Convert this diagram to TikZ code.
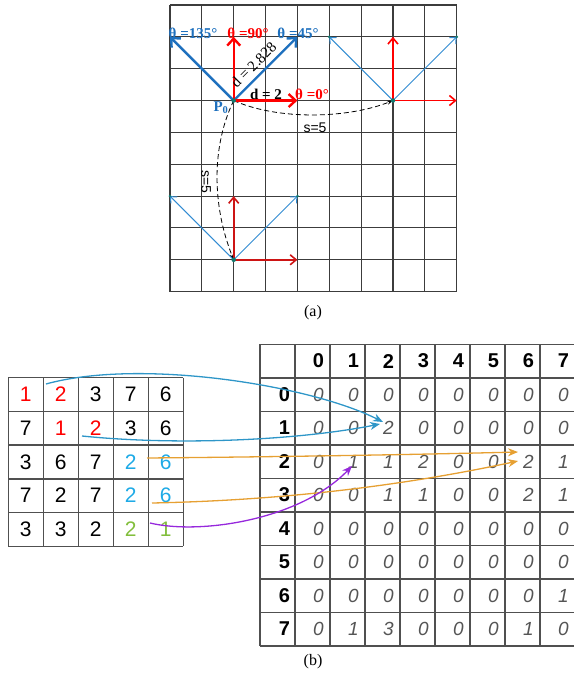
\documentclass[tikz,border=0pt]{standalone}
\usepackage{fontspec}
\setmainfont{Liberation Serif}
\newfontfamily\sansf{Liberation Sans}
\usetikzlibrary{arrows.meta}
\definecolor{ablue}{RGB}{30,112,190}
\definecolor{lblue}{RGB}{50,140,210}
\definecolor{ared}{RGB}{255,0,0}
\definecolor{dred}{RGB}{205,20,20}
\definecolor{adot}{RGB}{20,120,110}
\definecolor{gridc}{RGB}{60,60,60}
\definecolor{mcyan}{RGB}{46,150,200}
\definecolor{morange}{RGB}{230,160,50}
\definecolor{mpurple}{RGB}{150,40,220}
\definecolor{vcyan}{RGB}{30,170,230}
\definecolor{vgreen}{RGB}{130,190,60}
\definecolor{bodyc}{RGB}{85,85,85}
\begin{document}
\begin{tikzpicture}[x=1pt,y=-1pt,
  gridl/.style={draw=gridc,line width=1.1pt},
  thickarr/.style={line width=2.4pt,-{Straight Barb[length=7pt,width=13pt]}},
  thinarr/.style={line width=1pt,-{Straight Barb[length=5pt,width=9pt]}},
  thinredarr/.style={line width=1.6pt,-{Straight Barb[length=6pt,width=10pt]}},
  dashc/.style={draw=black,line width=0.8pt,dash pattern=on 5pt off 3pt,-{Stealth[length=6pt,width=4pt]}},
  lab/.style={inner sep=0pt,font=\fontsize{15}{17}\selectfont\bfseries},
  slab/.style={inner sep=0pt,font=\sansf\fontsize{14}{16}\selectfont},
  dotc/.style={circle,fill=adot,inner sep=0pt,minimum size=4.5pt},
  mline/.style={draw=gridc!90,line width=1.4pt},
  lval/.style={inner sep=0pt,font=\sansf\fontsize{21}{23}\selectfont},
  hval/.style={inner sep=0pt,font=\sansf\fontsize{20}{22}\selectfont\bfseries},
  bval/.style={inner sep=0pt,text=bodyc,font=\sansf\fontsize{19}{22}\selectfont\itshape},
  conn/.style={line width=1.3pt,-{Stealth[length=10pt,width=8pt]}},
  captxt/.style={inner sep=0pt,font=\fontsize{16}{18}\selectfont}
]
\useasboundingbox (0,0) rectangle (573,684);
% ---------- (a) grid
\foreach \i in {0,...,9} {
  \draw[gridl] (170+\i*31.85,5) -- (170+\i*31.85,291.65);
  \draw[gridl] (170,5+\i*31.85) -- (456.65,5+\i*31.85);
}
% points
\coordinate (p0) at (233.7,100.55);
\coordinate (p0r) at (297.4,100.55);
\coordinate (p0u) at (233.7,36.85);
\coordinate (p0ne) at (297.4,36.85);
\coordinate (p0nw) at (170,36.85);
\coordinate (p2) at (392.95,100.55);
\coordinate (p2r) at (456.65,100.55);
\coordinate (p2u) at (392.95,36.85);
\coordinate (p2ne) at (456.65,36.85);
\coordinate (p2nw) at (329.25,36.85);
\coordinate (p3) at (233.7,259.8);
\coordinate (p3r) at (297.4,259.8);
\coordinate (p3u) at (233.7,196.1);
\coordinate (p3ne) at (297.4,196.1);
\coordinate (p3nw) at (170,196.1);
% dashed curves
\draw[dashc] (p0) .. controls +(45,20) and +(-45,18) .. (p2);
\draw[dashc] (p0) .. controls +(-22,45) and +(-22,-55) .. (p3);
% arrows at p0
\draw[thickarr,ablue] (p0) -- (p0ne);
\draw[thickarr,ablue] (p0) -- (p0nw);
\draw[thickarr,ared] (p0) -- (p0u);
\draw[thickarr,ared] (p0) -- (p0r);
% arrows at p2
\draw[thinarr,lblue] (p2) -- (p2ne);
\draw[thinarr,lblue] (p2) -- (p2nw);
\draw[thinredarr,ared] (p2) -- (p2u);
\draw[thinredarr,ared] (p2) -- (p2r);
% arrows at p3
\draw[thinarr,lblue] (p3) -- (p3ne);
\draw[thinarr,lblue] (p3) -- (p3nw);
\draw[thinredarr,dred] (p3) -- (p3u);
\draw[thinredarr,dred] (p3) -- (p3r);
% dots
\node[dotc] (d0) at (p0) {};
\node[dotc] (d2) at (p2) {};
\node[dotc] (d3) at (p3) {};
\foreach \q [count=\k] in {p2ne,p2nw,p3ne,p3nw} {\node[dotc,minimum size=3pt] (e\k) at (\q) {};}
% labels
\node[lab,ablue] (t135) at (193,33) {θ =135°};
\node[lab,ared] (t90) at (248,33) {θ =90°};
\node[lab,ablue] (t45) at (298,33) {θ =45°};
\node[lab,ared] (t0) at (312,94) {θ =0°};
\node[lab] (dd) at (266,94) {d = 2};
\node[inner sep=0pt,rotate=45,font=\fontsize{15}{17}\selectfont] (dd2) at (253.5,65) {d = 2.828};
\node[lab,ablue] (pp) at (221,108) {P$_\mathbf{0}$};
\node[slab] (s1) at (315,128) {s=5};
\node[slab,rotate=-90] (s2) at (206,182) {s=5};
\node[captxt] (ca) at (313,313) {(a)};
% ---------- (b) left matrix
\foreach \i in {0,...,5} {
  \draw[mline] (8.3+\i*35,377.7) -- (8.3+\i*35,546.2);
  \draw[mline] (8.3,377.7+\i*33.7) -- (183.3,377.7+\i*33.7);
}
\foreach \r/\c/\v/\col in {
 0/0/1/ared,0/1/2/ared,0/2/3/black,0/3/7/black,0/4/6/black,
 1/0/7/black,1/1/1/ared,1/2/2/ared,1/3/3/black,1/4/6/black,
 2/0/3/black,2/1/6/black,2/2/7/black,2/3/2/vcyan,2/4/6/vcyan,
 3/0/7/black,3/1/2/black,3/2/7/black,3/3/2/vcyan,3/4/6/vcyan,
 4/0/3/black,4/1/3/black,4/2/2/black,4/3/2/vgreen,4/4/1/vgreen} {
  \node[lval,text=\col] (L-\r-\c) at (25.8+\c*35,394.55+\r*33.7) {\v};
}
% ---------- (b) right matrix
\foreach \i in {0,...,9} {
  \draw[mline] (260+\i*35,344.3) -- (260+\i*35,645.8);
  \draw[mline] (260,344.3+\i*33.5) -- (575,344.3+\i*33.5);
}
\foreach \k in {0,...,7} {
  \node[hval] (H-\k) at (318.5+\k*35,361.05) {\k};
  \node[hval] (R-\k) at (284.5,394.55+\k*33.5) {\k};
}
\foreach \r/\vals in {
 0/{0,0,0,0,0,0,0,0},
 1/{0,0,2,0,0,0,0,0},
 2/{0,1,1,2,0,0,2,1},
 3/{0,0,1,1,0,0,2,1},
 4/{0,0,0,0,0,0,0,0},
 5/{0,0,0,0,0,0,0,0},
 6/{0,0,0,0,0,0,0,1},
 7/{0,1,3,0,0,0,1,0}} {
  \foreach \v [count=\c from 0] in \vals {
    \node[bval] (B-\r-\c) at (318.5+\c*35,394.55+\r*33.5) {\v};
  }
}
% connectors
\coordinate (a1s) at (46,384);
\coordinate (a1e) at (383,422);
\coordinate (a2s) at (82,436);
\coordinate (a2e) at (380,424);
\coordinate (a3s) at (147,458);
\coordinate (a3e) at (518,452);
\coordinate (a4s) at (152,503);
\coordinate (a4e) at (518,461);
\coordinate (a5s) at (150,523);
\coordinate (a5e) at (352,466);
\draw[conn,mcyan] (a1s) .. controls (140,358) and (310,385) .. (a1e);
\draw[conn,mcyan] (a2s) .. controls (180,446) and (300,440) .. (a2e);
\draw[conn,morange] (a3s) .. controls (260,457) and (400,455) .. (a3e);
\draw[conn,morange] (a4s) .. controls (300,500) and (420,482) .. (a4e);
\draw[conn,mpurple] (a5s) .. controls (200,535) and (300,520) .. (a5e);
\node[captxt] (cb) at (313,662) {(b)};
\end{tikzpicture}
\end{document}
